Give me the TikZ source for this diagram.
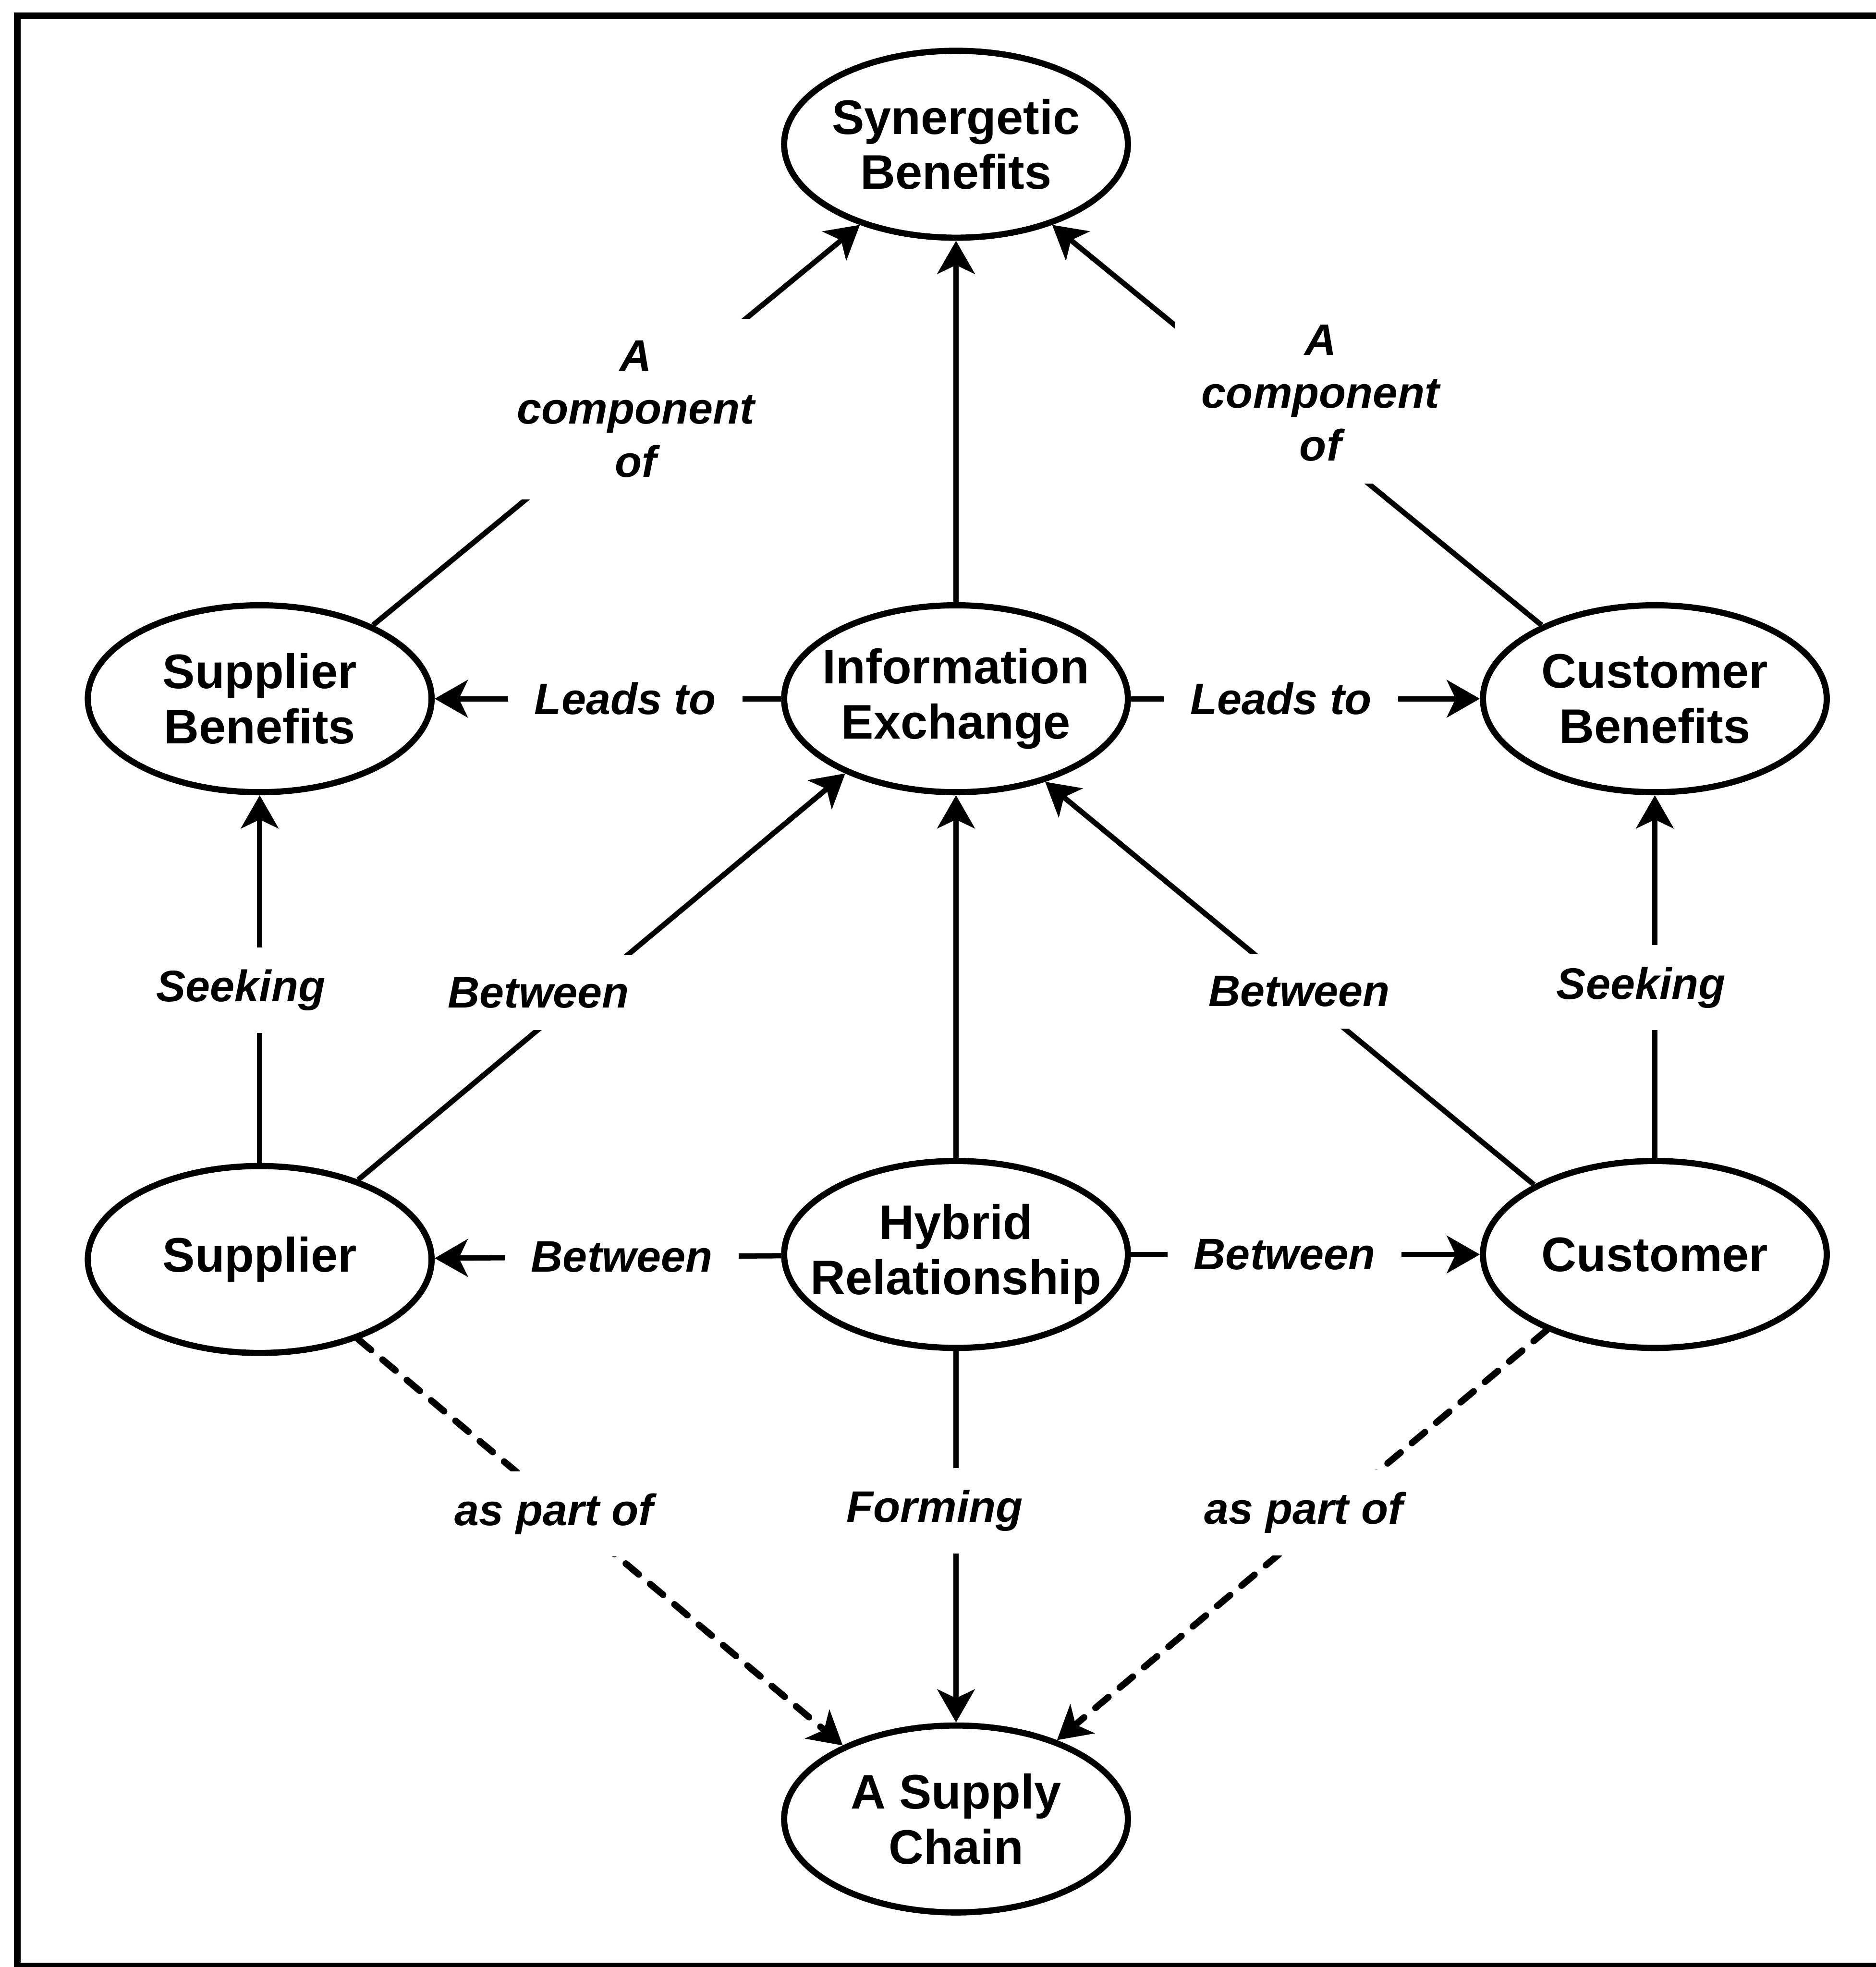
\documentclass[tikz,border=0pt]{standalone}
\usepackage{fontspec}
\setmainfont{Liberation Sans}
\usetikzlibrary{shapes,arrows.meta,positioning}
\tikzset{
    concepto/.style={ellipse,draw,line width=1.4pt,minimum width=2.74cm,minimum height=1.49cm,
                     inner xsep=-4mm,inner ysep=0pt,align=center,font=\fontsize{11}{12.5}\selectfont\bfseries},
    etiqueta/.style={fill=white,inner xsep=6pt,inner ysep=5pt,align=center,
                     font=\fontsize{10}{12}\selectfont\bfseries\itshape},
    enlace/.style={draw,->,>={Stealth[length=7.5pt,width=8.5pt,inset=2pt]},line width=1.2pt},
    parte/.style={enlace,line width=1.5pt,dash pattern=on 3.8pt off 3.4pt,line cap=round},
}

\begin{document}
\begin{tikzpicture}[on grid]
\useasboundingbox (-7.62,-10.11) rectangle (7.33,5.57);
% marco
\draw[line width=1.5pt] (7.6,5.444) -- (-7.483,5.444) -- (-7.483,-10.1) -- (7.6,-10.1);

\node[concepto]                              (info)     {Information\\Exchange};
\node[concepto,above=4.42cm of info]         (sinergia) {Synergetic\\Benefits};
\node[concepto,left=5.55cm of info]          (bprov)    {Supplier\\Benefits};
\node[concepto,right=5.57cm of info]         (bcli)     {Customer\\Benefits};
\node[concepto,below=4.43cm of info]         (hibrido)  {Hybrid\\Relationship};
\node[concepto,left=5.55cm of hibrido,yshift=-0.4mm] (prov) {Supplier};
\node[concepto,right=5.57cm of hibrido]      (cli)      {Customer};
\node[concepto,below=4.5cm of hibrido]       (cadena)   {A Supply\\Chain};

\draw[enlace] (bprov.33) -- node[etiqueta,pos=.54] {A\\component\\of} (sinergia.220);
\draw[enlace] (info) -- (sinergia);
\draw[enlace] (bcli.147) -- node[etiqueta,pos=.58,xshift=5mm] {A\\component\\of} (sinergia.-40);

\draw[enlace] (info) -- node[etiqueta,pos=.45] {Leads to} (bprov);
\draw[enlace] (info) -- node[etiqueta,pos=.43] {Leads to} (bcli);

\draw[enlace] (prov) -- node[etiqueta,pos=.47,xshift=-1.5mm] {Seeking} (bprov);
\draw[enlace] (cli) -- node[etiqueta,pos=.47,xshift=-1.1mm] {Seeking} (bcli);
\draw[enlace] (prov.39) -- node[etiqueta,pos=.46,xshift=-3.5mm] {Between} (info.214);
\draw[enlace] (cli.150) -- node[etiqueta,pos=.48] {Between} (info.-43);
\draw[enlace] (hibrido) -- (info);

\draw[enlace] (hibrido) -- node[etiqueta,pos=.46] {Between} (prov);
\draw[enlace] (hibrido) -- node[etiqueta,pos=.44] {Between} (cli);
\draw[enlace] (hibrido) -- node[etiqueta,pos=.43,xshift=-1.7mm] {Forming} (cadena);

\draw[parte] (prov.-39) -- node[etiqueta,pos=.43,xshift=-1mm] {as part of} (cadena.147);
\draw[parte] (cli.215) -- node[etiqueta,pos=.445,xshift=-2mm] {as part of} (cadena.38);
\end{tikzpicture}
\end{document}
